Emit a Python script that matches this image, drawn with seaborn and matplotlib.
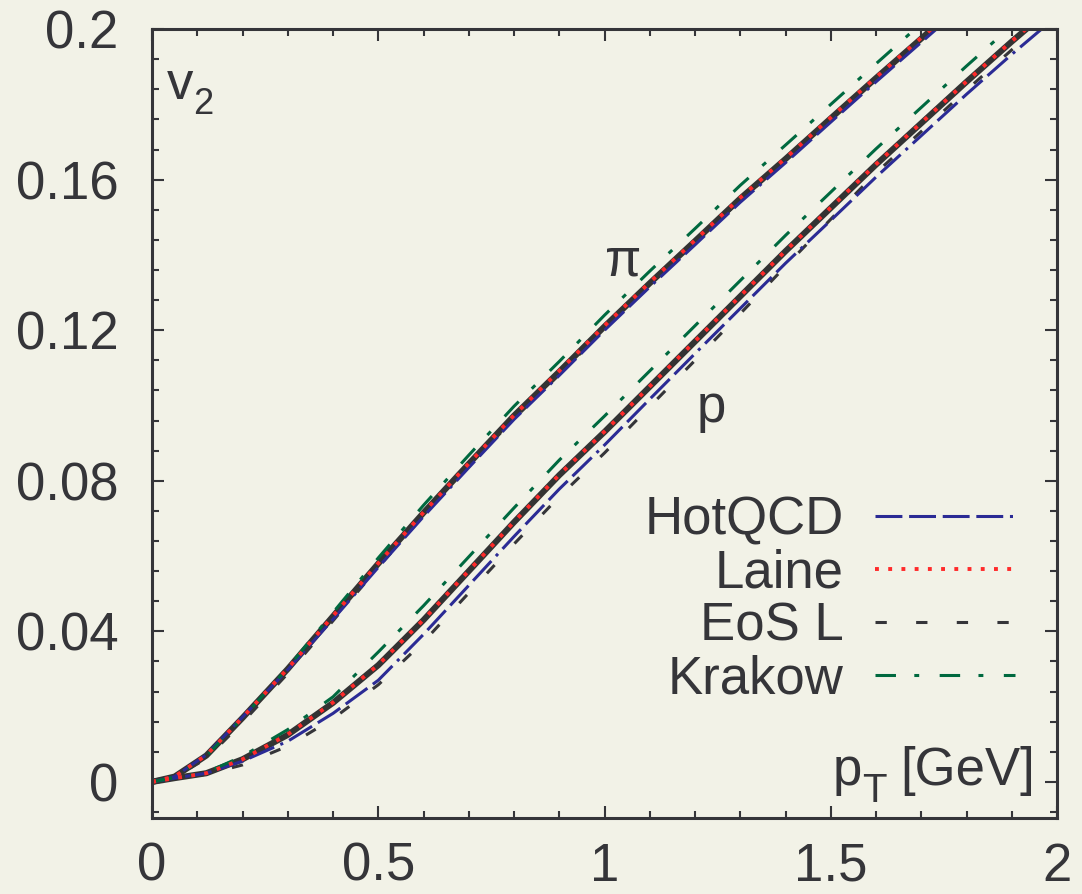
import numpy as np
import pandas as pd
import matplotlib
matplotlib.use("Agg")
import matplotlib.pyplot as plt
import seaborn as sns
from matplotlib.ticker import MultipleLocator

# pion curves
x_pi = [0, 0.05, 0.12, 0.2, 0.3, 0.4, 0.5, 0.6, 0.7, 0.8, 0.9, 1.0, 1.1, 1.2, 1.3, 1.4, 1.5, 1.6, 1.7, 1.8]
pi_base = [0, 0.0014, 0.0070, 0.0170, 0.0300, 0.0440, 0.0580, 0.0715, 0.0845, 0.0973, 0.1090, 0.1210, 0.1325, 0.1437, 0.1550, 0.1655, 0.1763, 0.1870, 0.1975, 0.2080]
pi_hotqcd = [0, 0.0014, 0.0072, 0.0172, 0.0298, 0.0432, 0.0570, 0.0705, 0.0835, 0.0963, 0.1080, 0.1200, 0.1315, 0.1427, 0.1540, 0.1645, 0.1753, 0.1860, 0.1965, 0.2070]
pi_laine = [0, 0.0014, 0.0071, 0.0171, 0.0301, 0.0441, 0.0581, 0.0716, 0.0846, 0.0974, 0.1092, 0.1212, 0.1327, 0.1439, 0.1552, 0.1657, 0.1765, 0.1872, 0.1977, 0.2082]
pi_eosl = [0, 0.0012, 0.0062, 0.0158, 0.0288, 0.0428, 0.0570, 0.0708, 0.0838, 0.0965, 0.1082, 0.1203, 0.1318, 0.1431, 0.1545, 0.1651, 0.1760, 0.1868, 0.1974, 0.2080]
pi_krakow = [0, 0.0013, 0.0068, 0.0170, 0.0303, 0.0450, 0.0595, 0.0735, 0.0868, 0.0998, 0.1117, 0.1240, 0.1357, 0.1470, 0.1585, 0.1692, 0.1800, 0.1908, 0.2015, 0.2120]

# proton curves
x_p = [0, 0.05, 0.12, 0.2, 0.3, 0.4, 0.5, 0.6, 0.7, 0.8, 0.9, 1.0, 1.1, 1.2, 1.3, 1.4, 1.5, 1.6, 1.7, 1.8, 1.9, 2.0]
p_base = [0, 0.0010, 0.0023, 0.0060, 0.0125, 0.0210, 0.0310, 0.0430, 0.0560, 0.0690, 0.0815, 0.0930, 0.1050, 0.1170, 0.1290, 0.1410, 0.1525, 0.1640, 0.1750, 0.1860, 0.1967, 0.2070]
p_hotqcd = [0, 0.0010, 0.0023, 0.0055, 0.0108, 0.0182, 0.0270, 0.0392, 0.0522, 0.0652, 0.0778, 0.0895, 0.1017, 0.1138, 0.1258, 0.1378, 0.1492, 0.1607, 0.1717, 0.1827, 0.1933, 0.2035]
p_laine = [0, 0.0010, 0.0023, 0.0060, 0.0126, 0.0211, 0.0311, 0.0431, 0.0561, 0.0691, 0.0816, 0.0931, 0.1051, 0.1171, 0.1291, 0.1411, 0.1526, 0.1641, 0.1751, 0.1861, 0.1968, 0.2071]
p_eosl = [0, 0.0009, 0.0020, 0.0045, 0.0095, 0.0168, 0.0258, 0.0372, 0.0502, 0.0632, 0.0758, 0.0874, 0.0997, 0.1120, 0.1244, 0.1370, 0.1495, 0.1618, 0.1728, 0.1838, 0.1945, 0.2048]
p_krakow = [0, 0.0011, 0.0025, 0.0068, 0.0139, 0.0226, 0.0345, 0.0468, 0.0598, 0.0728, 0.0855, 0.0972, 0.1092, 0.1212, 0.1332, 0.1452, 0.1567, 0.1682, 0.1792, 0.1902, 0.2009, 0.2112]

models = ["HotQCD", "Laine", "EoS L", "Krakow"]

bg = "#f2f2e7"
ink = "#353539"

sns.set_theme(style="ticks")
plt.rcParams["font.family"] = ["Liberation Sans", "DejaVu Sans"]

fig = plt.figure(figsize=(10.82, 8.94), dpi=100, facecolor=bg)
ax = fig.add_axes([0.1405, 0.085, 0.8365, 0.8825])
ax.set_facecolor(bg)

styles = {
    "HotQCD": dict(color="#2b2b95", lw=2.2, linestyle=(0, (8.8, 2.2, 8.8, 2.2, 8.8, 2.2, 8.8, 2.2, 1.0, 2.2))),
    "Laine": dict(color="#ff2a2a", lw=2.8, linestyle=(0, (1.0, 2.4))),
    "EoS L": dict(color=ink, lw=2.2, linestyle=(0, (3.7, 9.6))),
    "Krakow": dict(color="#00693f", lw=2.2, linestyle=(0, (6.7, 6.0, 1.6, 6.7))),
}

# thick solid reference curves underneath
sns.lineplot(x=x_pi, y=pi_base, ax=ax, color="#333333", lw=4.4)
sns.lineplot(x=x_p, y=p_base, ax=ax, color="#333333", lw=4.4)

pi_curves = {"HotQCD": pi_hotqcd, "Laine": pi_laine, "EoS L": pi_eosl, "Krakow": pi_krakow}
p_curves = {"HotQCD": p_hotqcd, "Laine": p_laine, "EoS L": p_eosl, "Krakow": p_krakow}

for m in ["EoS L", "HotQCD", "Krakow", "Laine"]:
    sns.lineplot(x=x_pi, y=pi_curves[m], ax=ax, **styles[m])
    sns.lineplot(x=x_p, y=p_curves[m], ax=ax, label=m, **styles[m])

hmap = {l.get_label(): l for l in ax.get_lines()}
leg = ax.legend([hmap[m] for m in models], models, loc="upper right",
                bbox_to_anchor=(0.9536, 0.409), frameon=False, markerfirst=False,
                fontsize=38, handlelength=2.65, handletextpad=0.6,
                labelspacing=0.06, borderpad=0, borderaxespad=0)
for t in leg.get_texts():
    t.set_color(ink)

ax.set_xlim(0, 2)
ax.set_ylim(-0.0096, 0.2)
ax.xaxis.set_minor_locator(MultipleLocator(0.1))
ax.yaxis.set_minor_locator(MultipleLocator(0.008))
ax.set_xticks([0, 0.5, 1, 1.5, 2], ["0", "0.5", "1", "1.5", "2"])
ax.set_yticks([0, 0.04, 0.08, 0.12, 0.16, 0.2], ["0", "0.04", "0.08", "0.12", "0.16", "0.2"])
ax.tick_params(which="both", direction="in", top=True, right=True, colors=ink, width=1.5)
ax.tick_params(which="major", length=8.6, labelsize=38)
ax.tick_params(which="minor", length=4.7)
ax.tick_params(axis="x", which="major", pad=17)
ax.tick_params(axis="y", which="major", pad=24)
for s in ax.spines.values():
    s.set_linewidth(2.2)
    s.set_color(ink)
ax.set_xlabel("")
ax.set_ylabel("")

# v2 label
ax.text(0.033, 0.1814, "v", fontsize=38, color=ink, ha="left", va="baseline")
ax.text(0.0905, 0.1775, "2", fontsize=26, color=ink, ha="left", va="baseline")
# species labels
ax.text(1.0, 0.1345, "π", fontsize=38, color=ink, ha="left", va="baseline")
ax.text(1.203, 0.0955, "p", fontsize=38, color=ink, ha="left", va="baseline")
# pT axis label
ax.text(1.503, -0.0008, "p", fontsize=38, color=ink, ha="left", va="baseline")
ax.text(1.570, -0.0053, "T", fontsize=29, color=ink, ha="left", va="baseline")
ax.text(1.951, -0.0008, "[GeV]", fontsize=38, color=ink, ha="right", va="baseline")

fig.savefig("out.png", dpi=100, facecolor=bg)
